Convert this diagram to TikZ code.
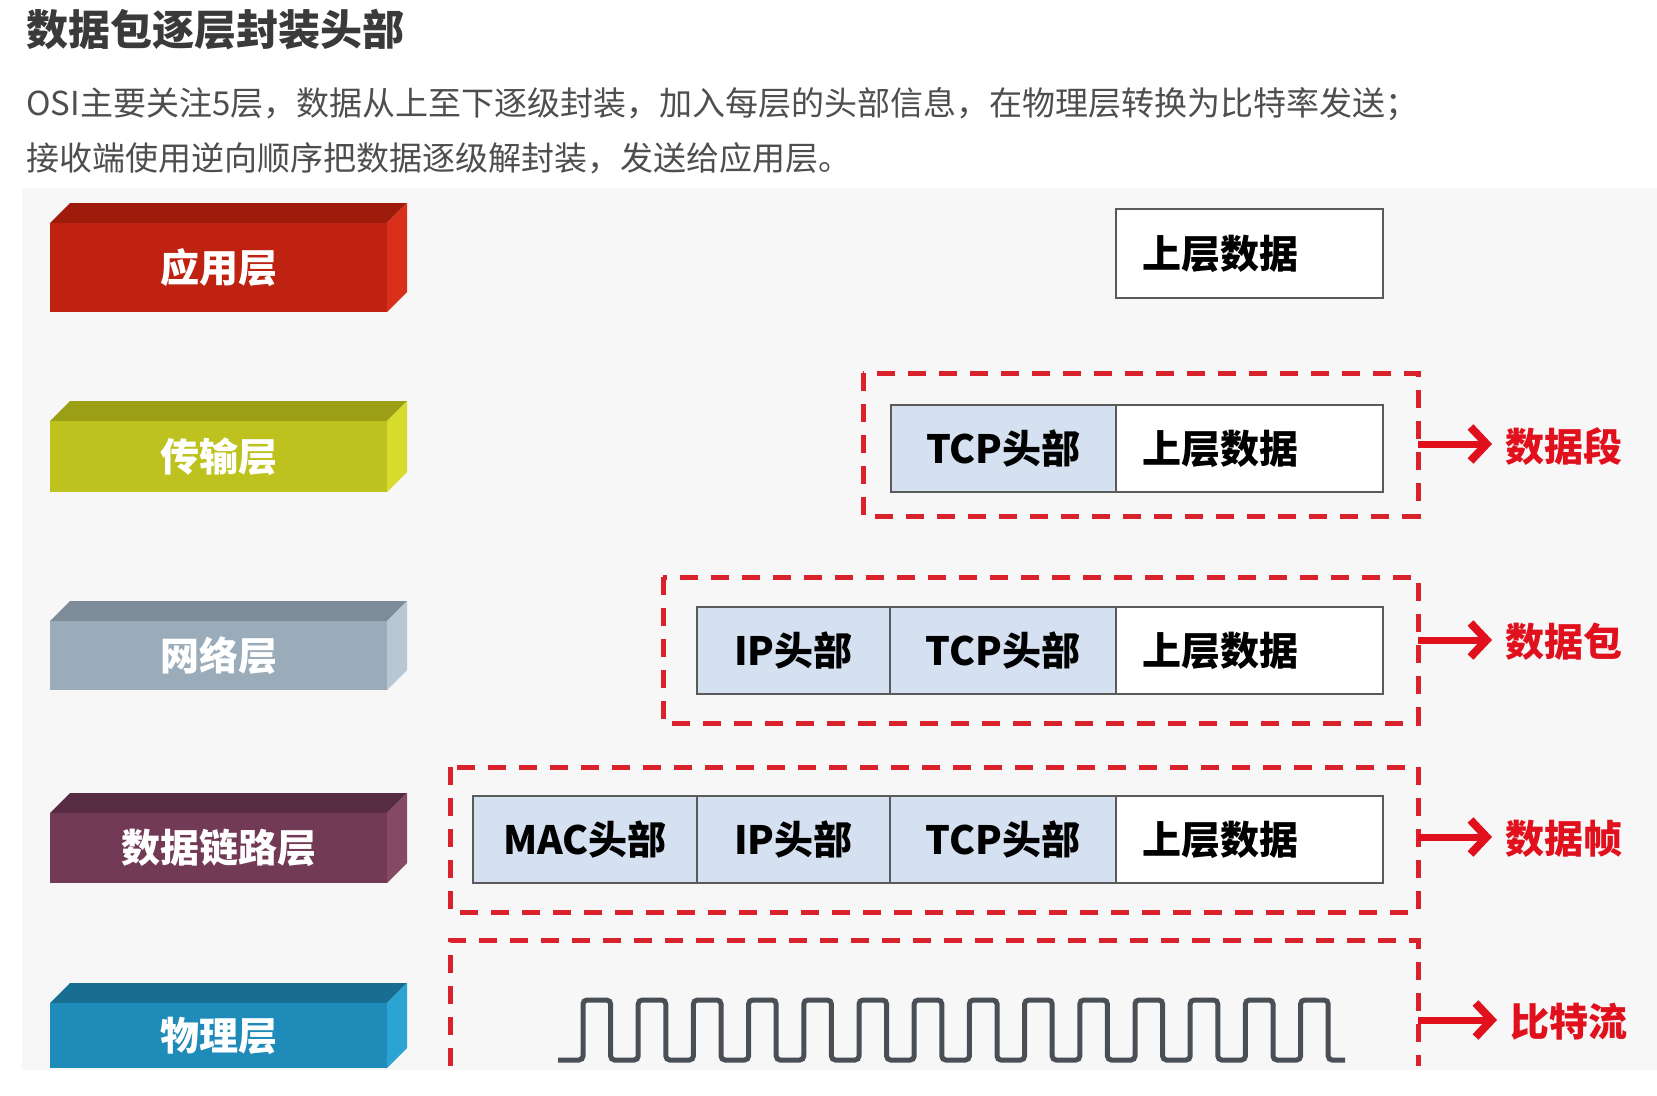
\documentclass[tikz,border=0pt]{standalone}
\usepackage{fontspec}
\setmainfont{Noto Sans CJK SC}
\usetikzlibrary{arrows.meta}
\definecolor{appF}{HTML}{BF2210}\definecolor{appT}{HTML}{9E1C0C}\definecolor{appS}{HTML}{D8301A}
\definecolor{trF}{HTML}{BDC21E}\definecolor{trT}{HTML}{9B9F16}\definecolor{trS}{HTML}{D6DB2C}
\definecolor{nwF}{HTML}{9AABBA}\definecolor{nwT}{HTML}{7D8C98}\definecolor{nwS}{HTML}{B8C7D4}
\definecolor{dlF}{HTML}{733A56}\definecolor{dlT}{HTML}{572B41}\definecolor{dlS}{HTML}{854964}
\definecolor{phF}{HTML}{1F8BB8}\definecolor{phT}{HTML}{186E91}\definecolor{phS}{HTML}{2BA3D3}
\definecolor{panel}{HTML}{F7F7F7}
\definecolor{titlegray}{HTML}{3A3A3A}
\definecolor{subgray}{HTML}{4E4E4E}
\definecolor{cellblue}{HTML}{D5E1F1}
\definecolor{cellline}{HTML}{5A5A5A}
\definecolor{dred}{HTML}{D9222C}
\definecolor{lred}{HTML}{E0101C}
\definecolor{wavegray}{HTML}{4A4F56}
\newcommand\layerbox[7]{%
  \fill[#5] (50,#2) -- (70,#2-20) -- (407,#2-20) -- (387,#2) -- cycle;
  \fill[#6] (387,#2) -- (407,#2-20) -- (407,#3-20) -- (387,#3) -- cycle;
  \node[layer, fill=#4, minimum height={#3-#2}] (#1) at (218.5,{(#2+#3)/2}) {#7};
}
\tikzset{
  layer/.style={inner sep=0pt, minimum width=337pt, text=white,
    font=\bfseries\fontsize{39}{44}\selectfont},
  hdr/.style={draw=cellline, line width=2pt, fill=cellblue, inner sep=0pt,
    minimum height=87pt, font=\bfseries\fontsize{39}{44}\selectfont},
  datacell/.style={draw=cellline, line width=2pt, fill=white, inner ysep=0pt,
    inner xsep=26pt, text width=215pt, align=left, minimum height=87pt,
    font=\bfseries\fontsize{39}{44}\selectfont},
  dbox/.style={draw=dred, line width=5pt, dash pattern=on 18pt off 13pt},
  redarrow/.style={draw=lred, line width=7pt,
    -{Straight Barb[length=16pt,width=34pt,line width=8pt]}, shorten >=13pt},
  redlabel/.style={anchor=west, inner sep=0pt, text=lred,
    font=\bfseries\fontsize{39}{44}\selectfont},
  wave/.style={draw=wavegray, line width=5pt, rounded corners=4pt}
}
\begin{document}
\begin{tikzpicture}[x=1pt,y=-1pt]
\useasboundingbox (0,0) rectangle (1657,1095);
\fill[white] (0,0) rectangle (1657,1095);
\fill[panel] (22,188) rectangle (1657,1070);

% title and subtitle
\node[anchor=west, inner sep=0pt, text=titlegray, font=\bfseries\fontsize{42}{50}\selectfont] (title) at (26,30) {数据包逐层封装头部};
\node[anchor=west, inner sep=0pt, text=subgray, font=\fontsize{33}{40}\selectfont] (sub1) at (26,104) {OSI主要关注5层，数据从上至下逐级封装，加入每层的头部信息，在物理层转换为比特率发送；};
\node[anchor=west, inner sep=0pt, text=subgray, font=\fontsize{33}{40}\selectfont] (sub2) at (26,158) {接收端使用逆向顺序把数据逐级解封装，发送给应用层。};

% layer boxes
\layerbox{app}{223}{312}{appF}{appT}{appS}{应用层}
\layerbox{trans}{421}{492}{trF}{trT}{trS}{传输层}
\layerbox{net}{621}{690}{nwF}{nwT}{nwS}{网络层}
\layerbox{dlink}{813}{883}{dlF}{dlT}{dlS}{数据链路层}
\layerbox{phys}{1003}{1068}{phF}{phT}{phS}{物理层}

% application data
\node[datacell, minimum height=89pt] (d0) at (1249.5,253.5) {上层数据};

% segment
\draw[dbox] (863,373) rectangle (1418,516);
\node[hdr, minimum width=225pt] (s1) at (1003.5,448.5) {TCP头部};
\node[datacell] (s2) at (1249.5,448.5) {上层数据};

% packet
\draw[dbox] (663,577) rectangle (1418,723);
\node[hdr, minimum width=193pt] (p1) at (793.5,650.5) {IP头部};
\node[hdr, minimum width=226pt] (p2) at (1003,650.5) {TCP头部};
\node[datacell] (p3) at (1249.5,650.5) {上层数据};

% frame
\draw[dbox] (450,767) rectangle (1418,912);
\node[hdr, minimum width=224pt] (f1) at (585,839.5) {MAC头部};
\node[hdr, minimum width=193pt] (f2) at (793.5,839.5) {IP头部};
\node[hdr, minimum width=226pt] (f3) at (1003,839.5) {TCP头部};
\node[datacell] (f4) at (1249.5,839.5) {上层数据};

% physical
\draw[dbox] (450,1066) -- (450,940) -- (1418,940) -- (1418,1066);
\draw[wave] (558,1060)
  \foreach \i in {0,...,13} {
    -- ({583+55.2*\i},1060) -- ({583+55.2*\i},1000)
    -- ({610.6+55.2*\i},1000) -- ({610.6+55.2*\i},1060)
  } -- (1345,1060);

% labels and arrows
\coordinate (segR) at (1418,444);
\coordinate (pktR) at (1418,640);
\coordinate (frmR) at (1418,837);
\coordinate (bitR) at (1418,1020);
\node[redlabel] (lseg) at (1505,446) {数据段};
\node[redlabel] (lpkt) at (1505,642) {数据包};
\node[redlabel] (lfrm) at (1505,839) {数据帧};
\node[redlabel] (lbit) at (1510,1022) {比特流};
\draw[redarrow] (segR) -- (segR -| lseg.west);
\draw[redarrow] (pktR) -- (pktR -| lpkt.west);
\draw[redarrow] (frmR) -- (frmR -| lfrm.west);
\draw[redarrow] (bitR) -- (bitR -| lbit.west);
\end{tikzpicture}
\end{document}
